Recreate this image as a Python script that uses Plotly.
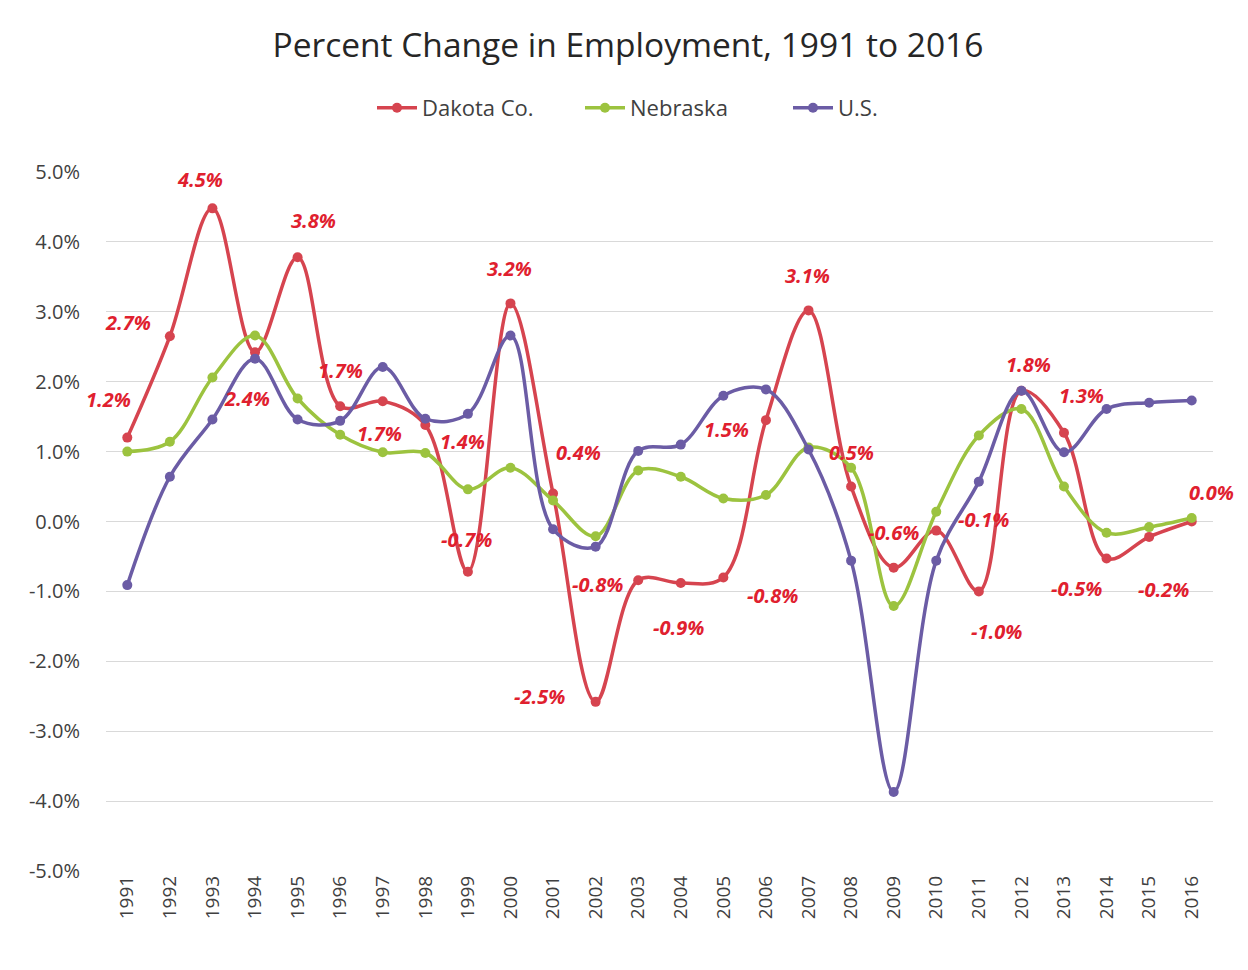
import plotly.graph_objects as go

years = list(range(1991, 2017))
year_labels = [str(y) for y in years]

dakota = [1.2, 2.65, 4.48, 2.42, 3.78, 1.65, 1.72, 1.38, -0.72, 3.12, 0.4, -2.58,
          -0.84, -0.88, -0.8, 1.45, 3.02, 0.5, -0.66, -0.13, -1.0, 1.87, 1.27,
          -0.53, -0.22, 0.0]
nebraska = [1.0, 1.14, 2.06, 2.66, 1.76, 1.24, 0.99, 0.98, 0.46, 0.77, 0.3, -0.21,
            0.73, 0.64, 0.33, 0.38, 1.06, 0.77, -1.21, 0.14, 1.23, 1.61, 0.5,
            -0.16, -0.08, 0.05]
us = [-0.91, 0.64, 1.46, 2.33, 1.46, 1.44, 2.21, 1.47, 1.54, 2.66, -0.11, -0.36,
      1.01, 1.1, 1.8, 1.89, 1.03, -0.56, -3.87, -0.56, 0.57, 1.87, 0.99, 1.61,
      1.7, 1.73]

dakota_labels = ["1.2%", "2.7%", "4.5%", "2.4%", "3.8%", "1.7%", "1.7%", "1.4%", "-0.7%",
                 "3.2%", "0.4%", "-2.5%", "-0.8%", "-0.9%", "-0.8%", "1.5%", "3.1%",
                 "0.5%", "-0.6%", "-0.1%", "-1.0%", "1.8%", "1.3%", "-0.5%", "-0.2%", "0.0%"]
# label offsets in pixels (dx, dy with dy positive = up)
label_offsets = [(-19, 38), (-42, 14), (-12, 29), (-8, -46), (16, 37), (0, 36), (-3, -32),
                 (37, -16), (-1, 32), (-1, 35), (25, 41), (-56, 5), (-41, -4), (-2, -44),
                 (49, -18), (-39, -9), (-1, 35), (0, 34), (0, 35), (47, 11), (18, -40),
                 (7, 26), (18, 37), (-30, -30), (14, -53), (20, 29)]

tick_vals = [-5, -4, -3, -2, -1, 0, 1, 2, 3, 4, 5]
tick_text = ["-5.0%", "-4.0%", "-3.0%", "-2.0%", "-1.0%", "0.0%", "1.0%", "2.0%", "3.0%", "4.0%", "5.0%"]

RED = "#D6444F"
GREEN = "#9CC33F"
PURPLE = "#6B5CA5"
LABEL_RED = "#E0202E"
FONT = "Open Sans"

W, H = 1240, 962

fig = go.Figure()
for name, vals, col in [("Dakota Co.", dakota, RED), ("Nebraska", nebraska, GREEN), ("U.S.", us, PURPLE)]:
    fig.add_trace(go.Scatter(
        x=years, y=vals, name=name, mode="lines+markers",
        line=dict(color=col, width=3.5, shape="spline", smoothing=1.0),
        marker=dict(color=col, size=10),
    ))

for x, y, t, (dx, dy) in zip(years, dakota, dakota_labels, label_offsets):
    fig.add_annotation(x=x, y=y, text="<b><i>" + t + "</i></b>", showarrow=False,
                       xshift=dx, yshift=dy,
                       font=dict(family=FONT, size=20, color=LABEL_RED))

fig.update_layout(
    width=W, height=H,
    paper_bgcolor="white", plot_bgcolor="white",
    margin=dict(l=98, r=35, t=164, b=99),
    title=dict(text="Percent Change in Employment, 1991 to 2016", x=0.5, xanchor="center",
               y=1 - 37 / H, yanchor="middle",
               font=dict(family=FONT, size=33.5, color="#262626")),
    legend=dict(orientation="h", x=364 / W, xref="container", xanchor="left",
                y=1 - 100 / H, yref="container", yanchor="middle",
                font=dict(family=FONT, size=22, color="#404040"),
                itemwidth=40, tracegroupgap=0,
                entrywidth=153, entrywidthmode="pixels"),
    showlegend=True,
)
fig.update_xaxes(range=[1990.5, 2016.5], tickmode="array", tickvals=years, ticktext=year_labels,
                 tickangle=-90, tickfont=dict(family=FONT, size=19, color="#404040"),
                 showgrid=False, zeroline=False, showline=False, ticks="")
fig.update_yaxes(range=[-5, 5], tickmode="array", tickvals=tick_vals, ticktext=tick_text,
                 tickfont=dict(family=FONT, size=20, color="#404040"),
                 showgrid=True, gridcolor="#D9D9D9", gridwidth=1, zeroline=False,
                 showline=False, ticks="", ticklabelstandoff=25)

fig.write_html("out.html")
